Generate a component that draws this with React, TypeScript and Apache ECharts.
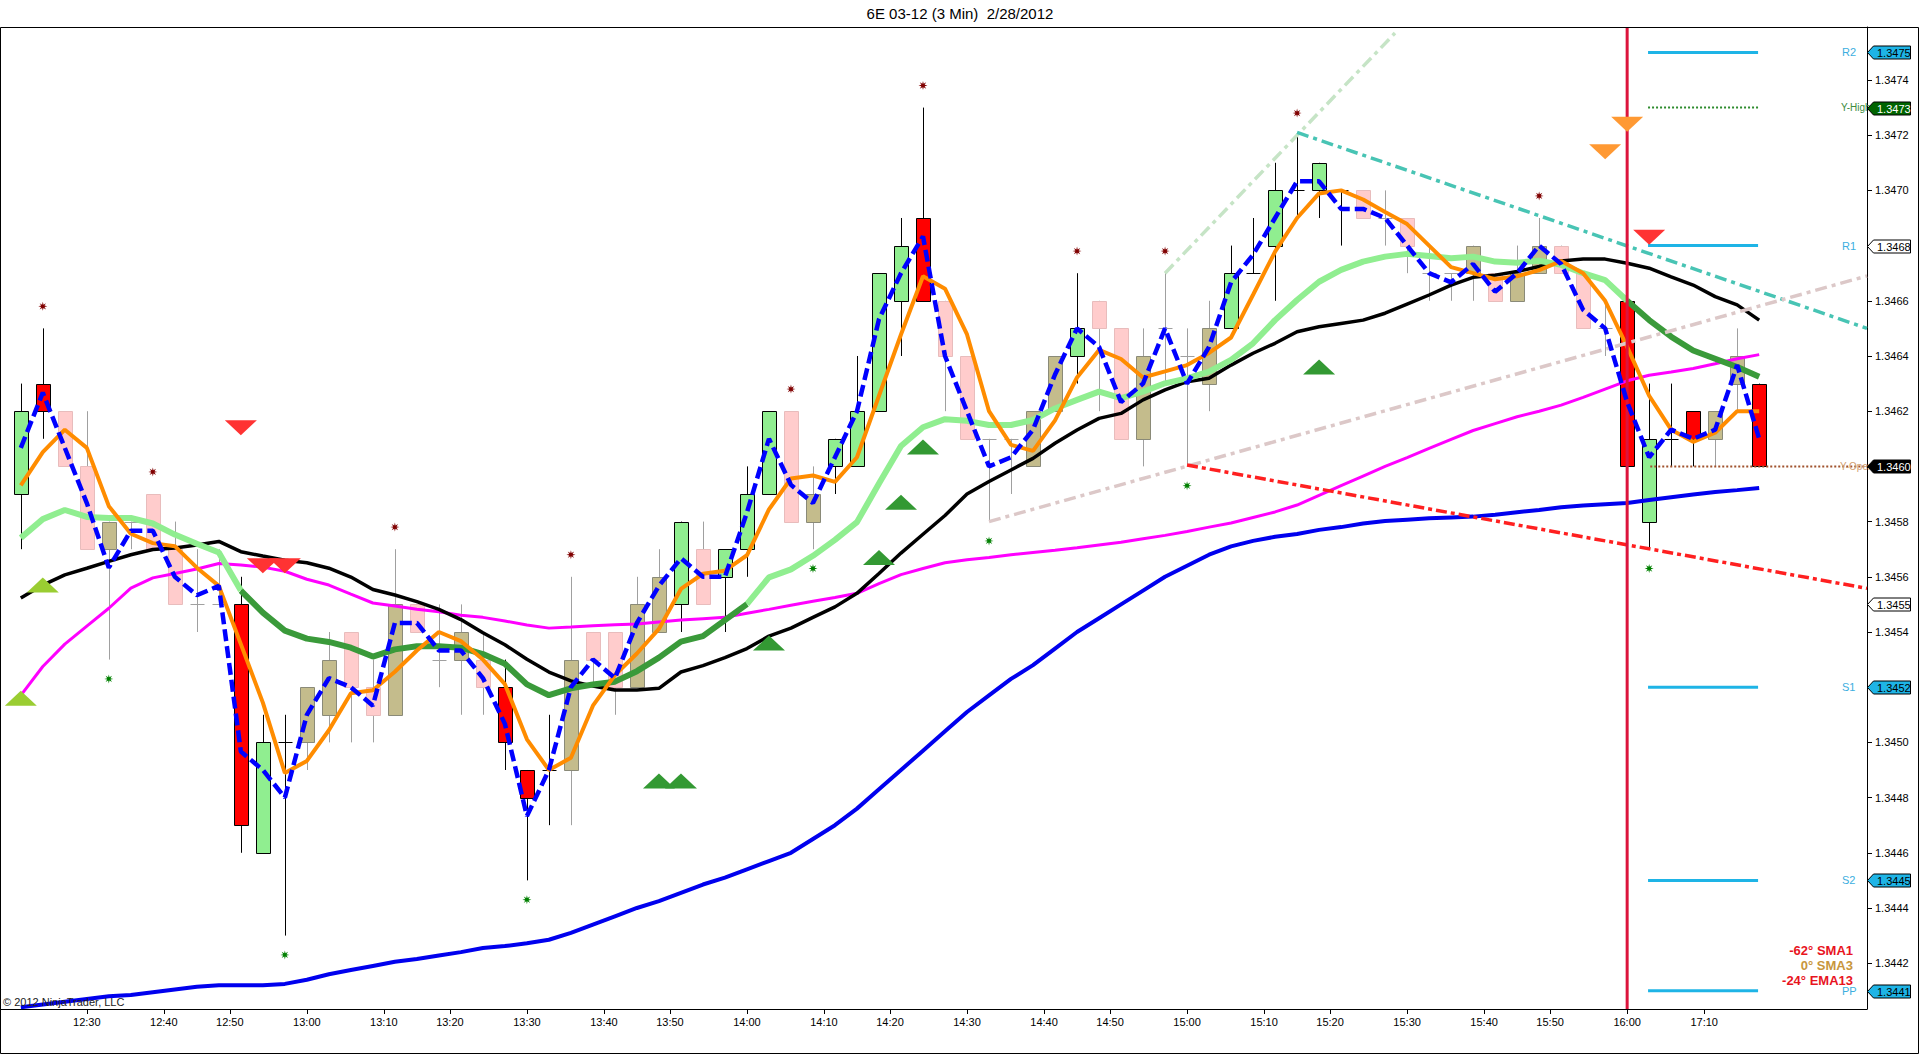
import React, { useEffect, useRef } from "react";
import * as echarts from "echarts";

// ---------------- DATA ----------------
// 3-minute bars, index 0 = 12:21 ... index 73 = 16:00, then 17:03 ... 17:15
const opens = [
  1.3459, 1.3463, 1.3462, 1.346, 1.3457, 1.3458, 1.3459, 1.3457, 1.3455, 1.3455,
  1.3455, 1.3446, 1.345, 1.345, 1.3451, 1.3454, 1.3452, 1.3451, 1.3455, 1.3453,
  1.3453, 1.3453, 1.3452, 1.3449, 1.3449, 1.3449, 1.3454, 1.3454, 1.3452, 1.3454,
  1.3455, 1.3457, 1.3456, 1.3457, 1.3459, 1.3462, 1.3458, 1.346, 1.346, 1.3462,
  1.3466, 1.3469, 1.3466, 1.3464, 1.3461, 1.3461, 1.346, 1.3462, 1.3464, 1.3466,
  1.3465, 1.3461, 1.3465, 1.3464, 1.3463, 1.3465, 1.3467, 1.3468, 1.347, 1.347,
  1.347, 1.347, 1.3469, 1.3469, 1.3467, 1.3467, 1.3467, 1.3467, 1.3466, 1.3467,
  1.3468, 1.3467, 1.3465, 1.3466, 1.3458, 1.3461, 1.3462, 1.3461, 1.3463, 1.3463,
];
const highs = [
  1.3463, 1.3465, 1.3462, 1.3462, 1.3458, 1.3458, 1.3459, 1.3458, 1.3457, 1.3457,
  1.3456, 1.3451, 1.3451, 1.3452, 1.3454, 1.3454, 1.3453, 1.3457, 1.3455, 1.3455,
  1.3455, 1.3454, 1.3453, 1.3449, 1.3451, 1.3456, 1.3454, 1.3454, 1.3456, 1.3457,
  1.3458, 1.3458, 1.3457, 1.346, 1.3462, 1.3462, 1.346, 1.3461, 1.3464, 1.3467,
  1.3469, 1.3473, 1.3466, 1.3464, 1.3461, 1.3461, 1.3462, 1.3464, 1.3467, 1.3466,
  1.3465, 1.3465, 1.3467, 1.3465, 1.3466, 1.3468, 1.3469, 1.3471, 1.3472, 1.3471,
  1.347, 1.347, 1.347, 1.3469, 1.3468, 1.3467, 1.3468, 1.3467, 1.3468, 1.3469,
  1.3468, 1.3467, 1.3466, 1.3467, 1.3463, 1.3463, 1.3462, 1.3462, 1.3465, 1.3463,
];
const lows = [
  1.3457, 1.3461, 1.346, 1.3457, 1.3453, 1.3457, 1.3457, 1.3455, 1.3454, 1.3455,
  1.3446, 1.3446, 1.3443, 1.3449, 1.345, 1.345, 1.345, 1.3451, 1.3454, 1.3452,
  1.3451, 1.3451, 1.3449, 1.3445, 1.3447, 1.3447, 1.3452, 1.3451, 1.3452, 1.3454,
  1.3454, 1.3455, 1.3454, 1.3456, 1.3459, 1.3458, 1.3457, 1.3459, 1.346, 1.3462,
  1.3464, 1.3466, 1.3462, 1.3461, 1.3458, 1.3459, 1.346, 1.3462, 1.3463, 1.3462,
  1.3461, 1.346, 1.3463, 1.346, 1.3462, 1.3465, 1.3467, 1.3466, 1.3469, 1.3469,
  1.3468, 1.3469, 1.3468, 1.3467, 1.3466, 1.3466, 1.3466, 1.3466, 1.3466, 1.3467,
  1.3467, 1.3465, 1.3464, 1.346, 1.3457, 1.346, 1.346, 1.346, 1.3462, 1.346,
];
const closes = [
  1.3462, 1.3462, 1.346, 1.3457, 1.3458, 1.3458, 1.3457, 1.3455, 1.3455, 1.3455,
  1.3447, 1.345, 1.345, 1.3452, 1.3453, 1.3452, 1.3451, 1.3455, 1.3454, 1.3453,
  1.3454, 1.3452, 1.345, 1.3448, 1.3449, 1.3453, 1.3453, 1.3452, 1.3455, 1.3456,
  1.3458, 1.3455, 1.3457, 1.3459, 1.3462, 1.3458, 1.3459, 1.3461, 1.3462, 1.3467,
  1.3468, 1.3466, 1.3464, 1.3461, 1.3461, 1.3461, 1.3462, 1.3464, 1.3465, 1.3465,
  1.3461, 1.3464, 1.3465, 1.3464, 1.3465, 1.3467, 1.3467, 1.347, 1.347, 1.3471,
  1.347, 1.3469, 1.3469, 1.3468, 1.3467, 1.3467, 1.3468, 1.3466, 1.3467, 1.3468,
  1.3467, 1.3465, 1.3465, 1.346, 1.3461, 1.3461, 1.3461, 1.3462, 1.3464, 1.346,
];
// 1 = strong bar (green/red, black outline), 0 = weak bar (tan/pink)
const barStrength = [
  1, 1, 0, 0, 0, 0, 0, 0, 0, 0, 1, 1, 1, 0, 0, 0, 0, 0, 0, 0,
  0, 0, 1, 1, 1, 0, 0, 0, 0, 0, 1, 0, 1, 1, 1, 0, 0, 1, 1, 1,
  1, 1, 0, 0, 0, 0, 0, 0, 1, 0, 0, 0, 0, 0, 0, 1, 1, 1, 1, 1,
  1, 0, 0, 0, 0, 0, 0, 0, 0, 0, 0, 0, 0, 1, 1, 1, 1, 0, 0, 1,
];

// SMA1 (blue dashed)
const sma1Line = [
  1.346067, 1.346267, 1.346067, 1.345867, 1.345633, 1.345767, 1.345767, 1.3456, 1.345533, 1.345567,
  1.344967, 1.3449, 1.3448, 1.3451, 1.345233, 1.3452, 1.345133, 1.345433, 1.345433, 1.345333,
  1.345333, 1.345233, 1.345067, 1.344733, 1.3449, 1.3452, 1.3453, 1.345233, 1.345433, 1.345567,
  1.345667, 1.3456, 1.3456, 1.345833, 1.3461, 1.345933, 1.345867, 1.346033, 1.3462, 1.346533,
  1.3467, 1.346833, 1.3464, 1.3462, 1.346, 1.346033, 1.346133, 1.346333, 1.3465, 1.346433,
  1.346233, 1.3463, 1.3465, 1.3463, 1.346433, 1.346667, 1.346767, 1.3469, 1.347033, 1.347033,
  1.346933, 1.346933, 1.3469, 1.3468, 1.3467, 1.346667, 1.346733, 1.346633, 1.3467, 1.3468,
  1.346733, 1.346567, 1.3465, 1.346233, 1.346033, 1.346133, 1.3461, 1.346133, 1.346367, 1.3461,
];
// SMA3 (orange)
const sma3Line = [
  1.345931, 1.346052, 1.346133, 1.346067, 1.345856, 1.345756, 1.345722, 1.345711, 1.345633, 1.345567,
  1.345356, 1.345144, 1.344889, 1.344933, 1.345044, 1.345178, 1.345189, 1.345256, 1.345333, 1.3454,
  1.345367, 1.3453, 1.345211, 1.345011, 1.3449, 1.344944, 1.345133, 1.345244, 1.345322, 1.345411,
  1.345556, 1.345611, 1.345622, 1.345678, 1.345844, 1.345956, 1.345967, 1.345944, 1.346033, 1.346256,
  1.346478, 1.346689, 1.346644, 1.346478, 1.3462, 1.346078, 1.346056, 1.346167, 1.346322, 1.346422,
  1.346389, 1.346322, 1.346344, 1.346367, 1.346411, 1.346467, 1.346622, 1.346778, 1.3469, 1.346989,
  1.347, 1.346967, 1.346922, 1.346878, 1.3468, 1.346722, 1.3467, 1.346678, 1.346689, 1.346711,
  1.346744, 1.3467, 1.3466, 1.346433, 1.346256, 1.346133, 1.346089, 1.346122, 1.3462, 1.3462,
];
// EMA13 (green, light when rising / dark when falling)
const ema13Line = [
  1.345741, 1.345809, 1.345842, 1.345817, 1.345813, 1.345813, 1.345793, 1.345753, 1.34572, 1.345688,
  1.34555, 1.34547, 1.345405, 1.345376, 1.345364, 1.345343, 1.345311, 1.345337, 1.345348, 1.345348,
  1.345343, 1.34532, 1.345285, 1.34521, 1.345171, 1.345196, 1.34521, 1.34522, 1.345258, 1.345307,
  1.345365, 1.345385, 1.345443, 1.345501, 1.345598, 1.345627, 1.345676, 1.345734, 1.345798, 1.345938,
  1.346074, 1.346142, 1.346171, 1.346165, 1.34615, 1.34615, 1.346168, 1.34621, 1.346241, 1.346271,
  1.346247, 1.346271, 1.346301, 1.346319, 1.346343, 1.346386, 1.346446, 1.34653, 1.346603, 1.346669,
  1.346712, 1.346742, 1.34676, 1.34677, 1.346762, 1.346754, 1.34676, 1.346742, 1.346738, 1.346745,
  1.34673, 1.3467, 1.346675, 1.3466, 1.34653, 1.34647, 1.34642, 1.34639, 1.34636, 1.346325,
];
const emaRisingSpans = [[0, 10], [33, 73]];
const emaFallingSpans = [[10, 33], [73, 79]];
// black moving average
const blackMaLine = [
  1.345523, 1.34557, 1.345607, 1.345631, 1.345656, 1.34568, 1.345699, 1.345704, 1.345715, 1.345728,
  1.345691, 1.345675, 1.34566, 1.345651, 1.345631, 1.345599, 1.345554, 1.345534, 1.34551, 1.345482,
  1.345445, 1.345397, 1.345354, 1.345301, 1.345255, 1.345223, 1.345204, 1.34519, 1.34519, 1.345196,
  1.345255, 1.345278, 1.345307, 1.34534, 1.345385, 1.345414, 1.345453, 1.345491, 1.34554, 1.345612,
  1.345686, 1.345754, 1.345822, 1.3459, 1.345945, 1.345987, 1.346029, 1.346084, 1.346132, 1.346174,
  1.346192, 1.346241, 1.346277, 1.346307, 1.346319, 1.346367, 1.34641, 1.346446, 1.346488, 1.346506,
  1.346518, 1.34653, 1.346555, 1.346588, 1.346621, 1.346657, 1.346685, 1.346693, 1.346706, 1.346724,
  1.346744, 1.346751, 1.346751, 1.346736, 1.346718, 1.346687, 1.346657, 1.346615, 1.346585, 1.34653,
];
// magenta moving average
const magentaMaLine = [
  1.34517, 1.345275, 1.345356, 1.345421, 1.345486, 1.345559, 1.345596, 1.345612, 1.345628, 1.345648,
  1.345643, 1.345635, 1.34562, 1.345591, 1.34557, 1.345537, 1.345505, 1.345494, 1.345482, 1.345473,
  1.345461, 1.345453, 1.34544, 1.345425, 1.345414, 1.345418, 1.345423, 1.345426, 1.345429, 1.345436,
  1.345443, 1.345448, 1.345453, 1.345468, 1.345482, 1.345497, 1.345511, 1.345525, 1.34554, 1.345575,
  1.345608, 1.34563, 1.345651, 1.345662, 1.34567, 1.34568, 1.345688, 1.345696, 1.345705, 1.345715,
  1.345725, 1.345738, 1.34575, 1.345764, 1.34578, 1.345795, 1.345815, 1.345835, 1.34586, 1.345895,
  1.34593, 1.345965, 1.346, 1.346032, 1.346065, 1.346098, 1.34613, 1.346155, 1.34618, 1.3462,
  1.346222, 1.34625, 1.34628, 1.34631, 1.34633, 1.346342, 1.346355, 1.346372, 1.34639, 1.346405,
];
// blue solid (long) moving average
const blueMaLine = [
  1.34404, 1.34405, 1.34406, 1.34407, 1.34408, 1.344085, 1.344095, 1.344105, 1.344115, 1.34412,
  1.34412, 1.34412, 1.344125, 1.34414, 1.34416, 1.344175, 1.34419, 1.344205, 1.344215, 1.344228,
  1.34424, 1.344255, 1.344262, 1.344272, 1.344285, 1.34431, 1.34434, 1.34437, 1.3444, 1.344425,
  1.344455, 1.344485, 1.34451, 1.34454, 1.34457, 1.3446, 1.34465, 1.3447, 1.34476, 1.34483,
  1.3449, 1.34497, 1.34504, 1.34511, 1.34517, 1.34523, 1.34528, 1.34534, 1.3454, 1.34545,
  1.3455, 1.34555, 1.3456, 1.34564, 1.34568, 1.34571, 1.34573, 1.345745, 1.345755, 1.34577,
  1.34578, 1.345793, 1.345802, 1.345807, 1.345812, 1.345815, 1.345818, 1.345825, 1.345834, 1.345842,
  1.345852, 1.345858, 1.345863, 1.345867, 1.345878, 1.345888, 1.345898, 1.345907, 1.345914, 1.345922,
];

// markers [barIndex, price]
const swingHighDots = [
  [1, 1.34658], [6, 1.34598], [17, 1.34578], [25, 1.34568], [35, 1.34628],
  [41, 1.34738], [48, 1.34678], [52, 1.34678], [58, 1.34728], [69, 1.34698],
];
const swingLowDots = [
  [4, 1.34523], [12, 1.34423], [23, 1.34443], [36, 1.34563], [44, 1.34573], [53, 1.34593], [74, 1.34563],
];
const yellowUpTriangles = [[0, 1.34516], [1, 1.34557]];
const greenUpTriangles = [
  [29, 1.34486], [30, 1.34486], [34, 1.34536], [39, 1.34567], [40, 1.34587], [41, 1.34607], [59, 1.34636],
];
const redDownTriangles = [[10, 1.34614], [11, 1.34564], [12, 1.34564], [74, 1.34683]];
const orangeDownTriangles = [[72, 1.34714], [73, 1.34724]];

// drawn trend lines [barIndex, price]
const trendPaleGreen = [[52, 1.3467], [62.45, 1.34757]];
const trendTeal = [[58, 1.34721], [83.9, 1.34650]];
const trendRose = [[44, 1.3458], [83.9, 1.34669]];
const trendRed = [[53, 1.346005], [83.9, 1.345558]];
const sessionBreakBar = 73;

// pivot levels of the new session
const pivotLevels = [
  { name: "R2", value: 1.3475 },
  { name: "R1", value: 1.3468 },
  { name: "S1", value: 1.3452 },
  { name: "S2", value: 1.3445 },
  { name: "PP", value: 1.3441 },
];
const pivotSpan = [73.95, 78.95];
const yHighLevel = 1.3473;
const yOpenLevel = 1.346;
const yOpenStart = 74.05;

// price flags on the right axis
const axisFlags = [
  { value: 1.3475, kind: "pivot" },
  { value: 1.3473, kind: "yhigh" },
  { value: 1.3468, kind: "plain" },
  { value: 1.346, kind: "last" },
  { value: 1.3455, kind: "plain" },
  { value: 1.3452, kind: "pivot" },
  { value: 1.3445, kind: "pivot" },
  { value: 1.3441, kind: "pivot" },
];

const slopeLegend = [
  { text: "-62° SMA1", color: "#E8141E" },
  { text: "0° SMA3", color: "#C8963C" },
  { text: "-24° EMA13", color: "#E8141E" },
];

const xTickPos = [3, 6.5, 9.5, 13, 16.5, 19.5, 23, 26.5, 29.5, 33, 36.5, 39.5, 43, 46.5, 49.5, 53, 56.5, 59.5, 63, 66.5, 69.5, 73, 76.5];
const xTickLabels = [
  "12:30", "12:40", "12:50", "13:00", "13:10", "13:20", "13:30", "13:40", "13:50", "14:00", "14:10", "14:20",
  "14:30", "14:40", "14:50", "15:00", "15:10", "15:20", "15:30", "15:40", "15:50", "16:00", "17:10",
];
const yTicks = [
  1.3442, 1.3444, 1.3446, 1.3448, 1.345, 1.3452, 1.3454, 1.3456, 1.3458, 1.346,
  1.3462, 1.3464, 1.3466, 1.3468, 1.347, 1.3472, 1.3474,
];

const X_MIN = -0.9;
const X_MAX = 83.9;
const Y_MIN = 1.344034;
const Y_MAX = 1.347592;

// ---------------- STYLE ----------------
const FONT = "Arial, 'Liberation Sans', sans-serif";
const STAR =
  "path://M10 0L11.53 6.3L17.07 2.93L13.7 8.47L20 10L13.7 11.53L17.07 17.07L11.53 13.7L10 20L8.47 13.7L2.93 17.07L6.3 11.53L0 10L6.3 8.47L2.93 2.93L8.47 6.3Z";
const PIVOT_BLUE = "#1EB4E6";

const pts = (arr: number[]) => arr.map((v, i) => [i, v]);

function lineSeries(data: any[], color: string, width: number, type: any = "solid", z = 3) {
  return {
    type: "line",
    data,
    showSymbol: false,
    symbol: "none",
    silent: true,
    z,
    lineStyle: { color, width, type },
    clip: true,
  };
}

function scatterSeries(data: any[], symbol: string, size: any, color: string, rotate = 0) {
  return {
    type: "scatter",
    data,
    symbol,
    symbolSize: size,
    symbolRotate: rotate,
    itemStyle: { color, opacity: 1 },
    silent: true,
    z: 6,
  };
}

export default function App() {
  const ref = useRef<HTMLDivElement>(null);

  useEffect(() => {
    if (!ref.current) return;
    const chart = echarts.init(ref.current, null, { renderer: "svg" });

    const candleData = opens.map((o, i) => [i, o, highs[i], lows[i], closes[i], barStrength[i]]);

    const series: any[] = [];
    series.push({
      type: "custom",
      data: candleData,
      encode: { x: 0, y: [1, 2, 3, 4] },
      silent: true,
      z: 2,
      clip: true,
      renderItem: (params: any, api: any) => {
        const i = api.value(0);
        const o = api.value(1);
        const h = api.value(2);
        const l = api.value(3);
        const c = api.value(4);
        const strong = api.value(5) === 1;
        const px = api.coord([i, o]);
        const x = Math.round(px[0]) + 0.5;
        const yo = px[1];
        const yc = api.coord([i, c])[1];
        const yh = api.coord([i, h])[1];
        const yl = api.coord([i, l])[1];
        const bw = 14;
        const up = c > o;
        let fill = "#90EE90";
        let stroke = "#000000";
        let wick = "#000000";
        if (strong) {
          fill = up ? "#90EE90" : "#FF0000";
        } else {
          fill = up ? "#C4BC8C" : "#FFCCCC";
          stroke = up ? "#8A8A78" : "#E8BCBC";
          wick = "#A0A0A0";
        }
        const children: any[] = [
          { type: "line", shape: { x1: x, y1: yh, x2: x, y2: yl }, style: { stroke: wick, lineWidth: 1 } },
        ];
        if (o === c) {
          const yy = Math.round(yo) + 0.5;
          children.push({
            type: "line",
            shape: { x1: x - bw / 2, y1: yy, x2: x + bw / 2, y2: yy },
            style: { stroke: wick, lineWidth: 1 },
          });
        } else {
          const top = Math.round(Math.min(yo, yc)) + 0.5;
          const bot = Math.round(Math.max(yo, yc)) + 0.5;
          children.push({
            type: "rect",
            shape: { x: x - bw / 2, y: top, width: bw, height: bot - top },
            style: { fill, stroke, lineWidth: 1 },
          });
        }
        return { type: "group", children };
      },
    });

    series.push(lineSeries(pts(blueMaLine), "#0000EE", 4));
    series.push(lineSeries(pts(magentaMaLine), "#FF00FF", 3));
    series.push(lineSeries(pts(blackMaLine), "#000000", 3.5));
    emaRisingSpans.forEach(([a, b]) => {
      series.push(lineSeries(ema13Line.slice(a, b + 1).map((v, j) => [a + j, v]), "#90EE90", 6));
    });
    emaFallingSpans.forEach(([a, b]) => {
      series.push(lineSeries(ema13Line.slice(a, b + 1).map((v, j) => [a + j, v]), "#3A9A3A", 6));
    });
    series.push(lineSeries(pts(sma3Line), "#FF8C00", 4, "solid", 4));
    series.push(lineSeries(pts(sma1Line), "#0000FF", 4.5, [12, 5], 5));

    // trend lines
    series.push(lineSeries(trendPaleGreen, "#C6E4C6", 3.5, [12, 5, 4, 5], 4));
    series.push(lineSeries(trendTeal, "#48C4B4", 3.5, [12, 5, 4, 5], 4));
    series.push(lineSeries(trendRose, "#DCC8C8", 3.5, [12, 5, 4, 5], 4));
    series.push(lineSeries(trendRed, "#FF2020", 3.5, [11, 4, 4, 4], 4));
    // session break
    series.push(lineSeries([[sessionBreakBar, Y_MIN], [sessionBreakBar, Y_MAX]], "#DC143C", 3, "solid", 4));
    // pivots
    pivotLevels.forEach((p) => {
      series.push(lineSeries([[pivotSpan[0], p.value], [pivotSpan[1], p.value]], PIVOT_BLUE, 3, "solid", 4));
    });
    series.push(lineSeries([[pivotSpan[0], yHighLevel], [pivotSpan[1], yHighLevel]], "#2E8B2E", 2, [2, 2], 4));
    series.push(lineSeries([[yOpenStart, yOpenLevel], [X_MAX, yOpenLevel]], "#A0522D", 2, [2, 2], 4));

    // markers
    series.push(scatterSeries(swingHighDots, STAR, 9, "#800000"));
    series.push(scatterSeries(swingLowDots, STAR, 9, "#008000"));
    series.push(scatterSeries(yellowUpTriangles, "triangle", [32, 15], "#9ACD32"));
    series.push(scatterSeries(greenUpTriangles, "triangle", [32, 15], "#339933"));
    series.push(scatterSeries(redDownTriangles, "triangle", [32, 15], "#FF3333", 180));
    series.push(scatterSeries(orangeDownTriangles, "triangle", [32, 15], "#FF9933", 180));

    chart.setOption({
      animation: false,
      backgroundColor: "#ffffff",
      grid: { left: 1, right: 53, top: 27, bottom: 46, containLabel: false },
      xAxis: {
        type: "value",
        min: X_MIN,
        max: X_MAX,
        axisLine: { show: true, onZero: false, lineStyle: { color: "#000", width: 1 } },
        axisTick: { show: true, customValues: xTickPos, length: 5, lineStyle: { color: "#000" } },
        axisLabel: {
          show: true,
          customValues: xTickPos,
          margin: 7,
          color: "#000",
          fontSize: 11,
          fontFamily: FONT,
          formatter: (v: number) => {
            let best = 0;
            for (let k = 1; k < xTickPos.length; k++) {
              if (Math.abs(xTickPos[k] - v) < Math.abs(xTickPos[best] - v)) best = k;
            }
            return xTickLabels[best];
          },
        },
        splitLine: { show: false },
      },
      yAxis: {
        type: "value",
        position: "right",
        min: Y_MIN,
        max: Y_MAX,
        axisLine: { show: true, onZero: false, lineStyle: { color: "#000", width: 1 } },
        axisTick: { show: true, customValues: yTicks, length: 5, lineStyle: { color: "#000" } },
        axisLabel: {
          show: true,
          customValues: yTicks,
          margin: 8,
          color: "#000",
          fontSize: 11,
          fontFamily: FONT,
          formatter: (v: number) => v.toFixed(4),
        },
        splitLine: { show: false },
      },
      series,
    });

    const yPix = (v: number) => chart.convertToPixel({ yAxisIndex: 0 }, v) as number;

    const graphics: any[] = [];
    graphics.push({
      type: "rect",
      z: 90,
      silent: true,
      shape: { x: 0.5, y: 27.5, width: 1918, height: 1026 },
      style: { fill: "none", stroke: "#000", lineWidth: 1 },
    });
    graphics.push({
      type: "text",
      z: 90,
      x: 960,
      y: 13,
      style: { text: "6E 03-12 (3 Min)  2/28/2012", fill: "#000", font: `15px ${FONT}`, align: "center", verticalAlign: "middle" },
    });
    graphics.push({
      type: "text",
      z: 90,
      x: 3,
      y: 1002,
      style: { text: "© 2012 NinjaTrader, LLC", fill: "#222", font: `11px ${FONT}`, align: "left", verticalAlign: "middle" },
    });
    slopeLegend.forEach((s, k) => {
      graphics.push({
        type: "text",
        z: 90,
        x: 1853,
        y: 950 + k * 15,
        style: { text: s.text, fill: s.color, font: `bold 13px ${FONT}`, align: "right", verticalAlign: "middle" },
      });
    });
    pivotLevels.forEach((p) => {
      graphics.push({
        type: "text",
        z: 80,
        x: 1842,
        y: yPix(p.value),
        style: { text: p.name, fill: "#3CAEE0", font: `11px ${FONT}`, align: "left", verticalAlign: "middle" },
      });
    });
    graphics.push({
      type: "text",
      z: 80,
      x: 1841,
      y: yPix(yHighLevel),
      style: { text: "Y-High", fill: "#3C8C3C", font: `10px ${FONT}`, align: "left", verticalAlign: "middle" },
    });
    graphics.push({
      type: "text",
      z: 80,
      x: 1840,
      y: yPix(yOpenLevel),
      style: { text: "Y-Open", fill: "#D2A070", font: `10px ${FONT}`, align: "left", verticalAlign: "middle" },
    });

    axisFlags.forEach((f) => {
      const y = Math.round(yPix(f.value)) + 0.5;
      let fill = "#fff";
      let text = "#000";
      if (f.kind === "pivot") fill = PIVOT_BLUE;
      if (f.kind === "yhigh") {
        fill = "#006400";
        text = "#fff";
      }
      if (f.kind === "last") {
        fill = "#000";
        text = "#fff";
      }
      graphics.push({
        type: "polygon",
        z: 100,
        silent: true,
        shape: {
          points: [
            [1867.5, y],
            [1873.5, y - 6.5],
            [1910.5, y - 6.5],
            [1910.5, y + 6.5],
            [1873.5, y + 6.5],
          ],
        },
        style: { fill, stroke: "#000", lineWidth: 1 },
      });
      graphics.push({
        type: "text",
        z: 101,
        x: 1877,
        y: y,
        style: { text: f.value.toFixed(4), fill: text, font: `11px ${FONT}`, align: "left", verticalAlign: "middle" },
      });
    });

    chart.setOption({ graphic: graphics });

    return () => chart.dispose();
  }, []);

  return (
    <div
      ref={ref}
      style={{ position: "absolute", left: 0, top: 0, width: 1920, height: 1055, background: "#fff" }}
    />
  );
}
